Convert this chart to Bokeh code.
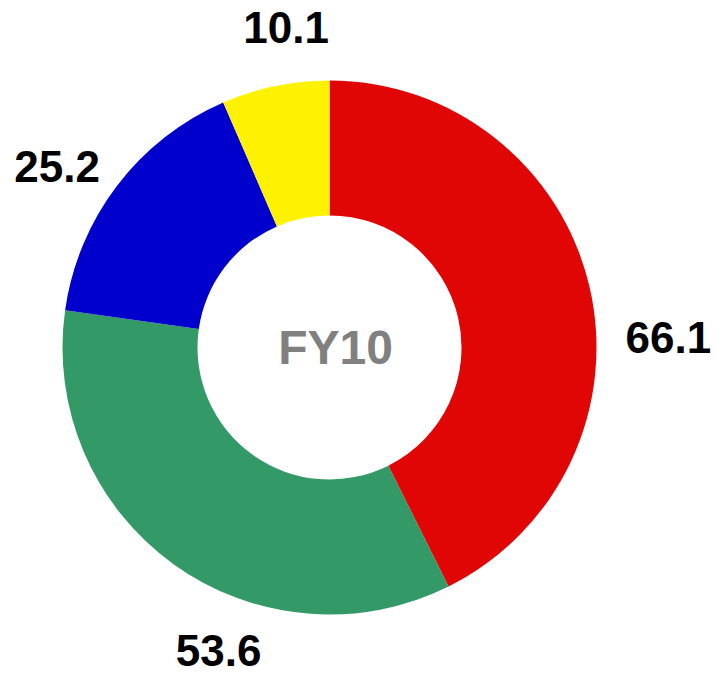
import math
from bokeh.plotting import figure
from bokeh.models import ColumnDataSource
from bokeh.core.properties import value
from bokeh.embed import file_html
from bokeh.resources import INLINE

# ---- data ----
categories = ["A", "B", "C", "D"]
values = [66.1, 53.6, 25.2, 10.1]
labels = ["66.1", "53.6", "25.2", "10.1"]
colors = ["#E00606", "#339966", "#0000CC", "#FFF200"]
center_label = "FY10"

# ---- layout constants (pixels in data units) ----
W, H = 715, 676
CX, CY = 329, 347           # center in figure pixels from left/top
R_OUT, R_IN = 267, 132
label_nudge_deg = [11.5, -15.7, -3.7, 4.0]
label_radius = [339, 323, 327, 323]

total = sum(values)
starts, ends, lx, ly = [], [], [], []
cum = 0.0
for i, v in enumerate(values):
    a0 = cum / total * 2 * math.pi
    cum += v
    a1 = cum / total * 2 * math.pi
    starts.append(math.pi / 2 - a0)
    ends.append(math.pi / 2 - a1)
    mid = (a0 + a1) / 2 + math.radians(label_nudge_deg[i])
    lx.append(label_radius[i] * math.sin(mid))
    ly.append(label_radius[i] * math.cos(mid))

src = ColumnDataSource(dict(cat=categories, val=values, start=starts, end=ends,
                            color=colors, lx=lx, ly=ly, label=labels))

p = figure(width=W, height=H, output_backend="svg", toolbar_location=None,
           x_range=(-CX, W - CX), y_range=(-(H - CY), CY),
           min_border=0, tools="")
p.axis.visible = False
p.grid.visible = False
p.outline_line_color = None
p.background_fill_color = "white"
p.border_fill_color = "white"

p.annular_wedge(x=0, y=0, inner_radius=R_IN, outer_radius=R_OUT,
                start_angle="start", end_angle="end", direction="clock",
                fill_color="color", line_color=None, source=src)

p.text(x="lx", y="ly", text="label", source=src,
       text_font=value("Liberation Sans"), text_font_style="bold",
       text_font_size="44px", text_color="black",
       text_align="center", text_baseline="middle")

p.text(x=[6], y=[0], text=[center_label],
       text_font=value("Liberation Sans"), text_font_style="bold",
       text_font_size="48px", text_color="#808080",
       text_align="center", text_baseline="middle")

open("out.html", "w").write(file_html(p, INLINE))
